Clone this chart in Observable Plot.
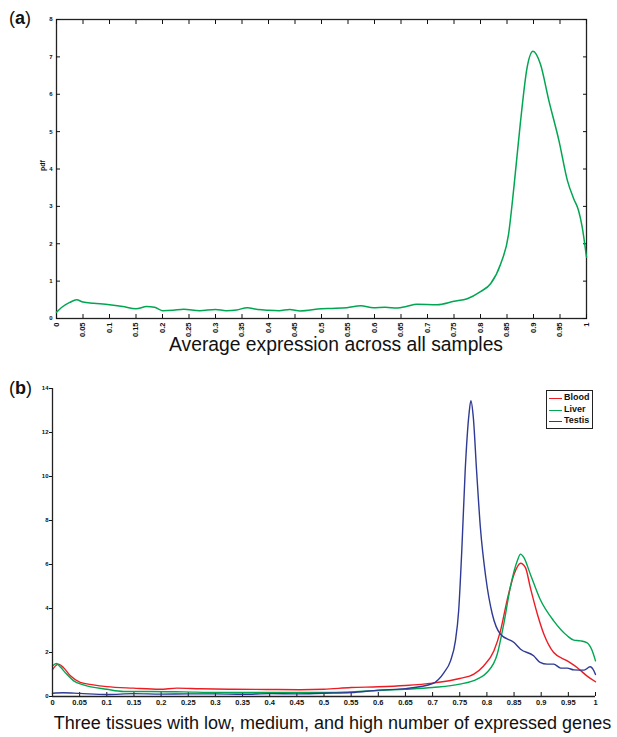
<!DOCTYPE html>
<html><head><meta charset="utf-8">
<script src="https://cdn.jsdelivr.net/npm/d3@7"></script>
<script src="https://cdn.jsdelivr.net/npm/@observablehq/plot@0.6"></script>
<style>
body{margin:0;background:#fff;font-family:"Liberation Sans",Arial,sans-serif;}
#wrap{position:relative;width:617px;height:737px;overflow:hidden;background:#fff;}
#top{position:absolute;left:0;top:0;}
#bottom{position:absolute;left:0;top:365px;}
.panel{position:absolute;font-size:18px;color:#111;line-height:1;}
#legend{position:absolute;left:546px;top:390px;width:45px;border:1.3px solid #222;background:#fff;padding:1px 0 1px 0;}
#legend .row{position:relative;height:11.5px;line-height:11.5px;font-size:9px;font-weight:bold;color:#111;padding-left:17px;}
#legend .sw{position:absolute;left:2px;top:6px;width:13px;height:0;border-top:1.5px solid #000;}
</style></head><body>
<div id="wrap">
<div id="top"></div>
<div id="bottom"></div>
<div class="panel" style="left:9px;top:9px">(<b>a</b>)</div>
<div class="panel" style="left:9px;top:379px">(<b>b</b>)</div>
<div id="legend"></div>
</div>
<script>
const FONT = '"Liberation Sans", Arial, sans-serif';

// ---- Panel (a) ----
const topXTicks = [0,0.05,0.1,0.15,0.2,0.25,0.3,0.35,0.4,0.45,0.5,0.55,0.6,0.65,0.7,0.75,0.8,0.85,0.9,0.95,1];
const topYTicks = [0,1,2,3,4,5,6,7,8];
const topX = [0,0.01,0.025,0.038,0.05,0.07,0.1,0.125,0.15,0.17,0.185,0.2,0.22,0.24,0.27,0.3,0.32,0.34,0.36,0.38,0.4,0.42,0.44,0.46,0.5,0.52,0.548,0.574,0.598,0.62,0.643,0.66,0.68,0.718,0.75,0.775,0.8,0.819,0.838,0.853,0.863,0.875,0.888,0.899,0.913,0.929,0.948,0.964,0.976,0.985,0.992,1.0];
const topPdf = [0.17,0.3,0.43,0.5,0.44,0.41,0.37,0.32,0.26,0.32,0.3,0.21,0.22,0.25,0.21,0.24,0.21,0.23,0.29,0.24,0.22,0.21,0.24,0.2,0.26,0.27,0.29,0.34,0.29,0.3,0.28,0.32,0.38,0.37,0.46,0.53,0.72,0.93,1.46,2.26,3.51,5.2,6.72,7.15,6.81,5.83,4.76,3.69,3.2,2.89,2.44,1.64];
const topXTitle = "Average expression across all samples";
const topYTitle = "pdf";
const topColor = "#00a651";

// ---- Panel (b) ----
const bottomXTicks = [0,0.05,0.1,0.15,0.2,0.25,0.3,0.35,0.4,0.45,0.5,0.55,0.6,0.65,0.7,0.75,0.8,0.85,0.9,0.95,1];
const bottomYTicks = [0,2,4,6,8,10,12,14];
const seriesNames = ["Blood","Liver","Testis"];
const seriesColors = ["#ed1c24","#00a651","#2e3a94"];
const bloodX = [0,0.002,0.011,0.02,0.033,0.051,0.075,0.1,0.149,0.198,0.229,0.272,0.333,0.395,0.456,0.5,0.55,0.6,0.65,0.7,0.75,0.776,0.794,0.813,0.825,0.837,0.85,0.862,0.871,0.88,0.893,0.905,0.923,0.948,0.966,0.984,1.0];
const bloodY = [1.22,1.29,1.47,1.32,0.94,0.64,0.53,0.45,0.38,0.33,0.38,0.35,0.33,0.32,0.31,0.33,0.41,0.44,0.5,0.61,0.82,1.02,1.39,2.08,2.98,4.35,5.56,6.06,5.86,4.95,3.74,2.83,2.0,1.62,1.32,0.94,0.67];
const liverX = [0,0.007,0.014,0.026,0.039,0.057,0.1,0.131,0.18,0.241,0.303,0.364,0.426,0.5,0.55,0.6,0.65,0.7,0.75,0.782,0.8,0.819,0.831,0.843,0.856,0.862,0.868,0.88,0.898,0.923,0.948,0.96,0.972,0.984,0.994,1.0];
const liverY = [1.39,1.5,1.35,1.02,0.71,0.53,0.33,0.23,0.23,0.21,0.18,0.18,0.18,0.18,0.21,0.27,0.33,0.41,0.56,0.79,1.09,1.92,3.29,4.95,6.17,6.47,6.32,5.56,4.42,3.44,2.76,2.56,2.53,2.45,2.08,1.62];
const testisX = [0,0.02,0.05,0.1,0.15,0.2,0.25,0.3,0.35,0.4,0.45,0.5,0.55,0.6,0.65,0.7,0.721,0.733,0.742,0.748,0.754,0.76,0.767,0.7705,0.775,0.781,0.788,0.798,0.81,0.825,0.85,0.862,0.886,0.898,0.911,0.923,0.936,0.948,0.96,0.979,0.99,0.997,1.0];
const testisY = [0.15,0.17,0.14,0.09,0.13,0.11,0.12,0.12,0.1,0.13,0.12,0.15,0.18,0.29,0.36,0.59,1.09,1.62,2.53,3.9,6.77,10.26,12.83,13.44,12.68,10.26,7.68,5.41,3.74,2.83,2.45,2.15,1.85,1.55,1.47,1.47,1.29,1.29,1.21,1.2,1.35,1.17,1.0];
const bottomXTitle = "Three tissues with low, medium, and high number of expressed genes";

// tables
const topData = topX.map((x,i)=>({x, y: topPdf[i]}));
const seriesXs = [bloodX, liverX, testisX];
const seriesYs = [bloodY, liverY, testisY];
const bottomData = seriesNames.flatMap((s,k)=>seriesXs[k].map((x,i)=>({series:s, x, y: seriesYs[k][i]})));

const topPlot = Plot.plot({
  width: 617, height: 365,
  marginLeft: 56, marginRight: 31, marginTop: 19, marginBottom: 47,
  x: {domain: [0,1]}, y: {domain: [0,8]},
  style: {fontFamily: FONT, background: "white", color: "#111"},
  marks: [
    Plot.frame({stroke: "#222", strokeWidth: 1.3}),
    Plot.axisX(topXTicks, {anchor: "bottom", tickSize: -4, tickPadding: 8, tickRotate: -90, fontSize: 7.5, fontWeight: "bold", label: null, tickFormat: d => String(d)}),
    Plot.axisX(topXTicks, {anchor: "top", tickSize: -4, tickFormat: () => "", label: null}),
    Plot.axisY(topYTicks, {anchor: "left", tickSize: -4, tickPadding: 8, fontSize: 6, fontWeight: "bold", label: null, tickFormat: d => String(d)}),
    Plot.axisY(topYTicks, {anchor: "right", tickSize: -4, tickFormat: () => "", label: null}),
    Plot.line(topData, {x: "x", y: "y", stroke: topColor, strokeWidth: 1.5, curve: "monotone-x"}),
    Plot.text([topXTitle], {frameAnchor: "bottom", dy: 32, dx: 14.5, fontSize: 19.3, text: d => d, fill: "#111"}),
    Plot.text([topYTitle], {frameAnchor: "left", rotate: -90, dx: -14, dy: 2, fontSize: 7, fontWeight: "bold", text: d => d, fill: "#111"})
  ]
});
document.getElementById("top").appendChild(topPlot);

const bottomPlot = Plot.plot({
  width: 617, height: 372,
  marginLeft: 52, marginRight: 22, marginTop: 23, marginBottom: 41,
  x: {domain: [0,1]}, y: {domain: [0,14]},
  color: {domain: seriesNames, range: seriesColors},
  style: {fontFamily: FONT, background: "white", color: "#111"},
  marks: [
    Plot.axisX(bottomXTicks, {anchor: "bottom", tickSize: -4, tickPadding: 7.5, fontSize: 7.5, fontWeight: "bold", label: null, tickFormat: d => String(d)}),
    Plot.axisY(bottomYTicks, {anchor: "left", tickSize: 3, tickPadding: 1, fontSize: 6, fontWeight: "bold", label: null, tickFormat: d => String(d)}),
    Plot.line(bottomData, {x: "x", y: "y", z: "series", stroke: "series", strokeWidth: 1.4, curve: "monotone-x"}),
    Plot.ruleX([0], {stroke: "#222", strokeWidth: 1.3}),
    Plot.ruleY([0], {stroke: "#222", strokeWidth: 1.3}),
    Plot.text([bottomXTitle], {frameAnchor: "bottom", dy: 32, dx: 8.5, fontSize: 18, text: d => d, fill: "#111", style: "word-spacing:1.5px"})
  ]
});
document.getElementById("bottom").appendChild(bottomPlot);

// legend
const legend = document.getElementById("legend");
seriesNames.forEach((s,i)=>{
  const row = document.createElement("div"); row.className = "row";
  const sw = document.createElement("span"); sw.className = "sw"; sw.style.borderTopColor = seriesColors[i];
  row.appendChild(sw); row.appendChild(document.createTextNode(s)); legend.appendChild(row);
});
</script>
</body></html>
